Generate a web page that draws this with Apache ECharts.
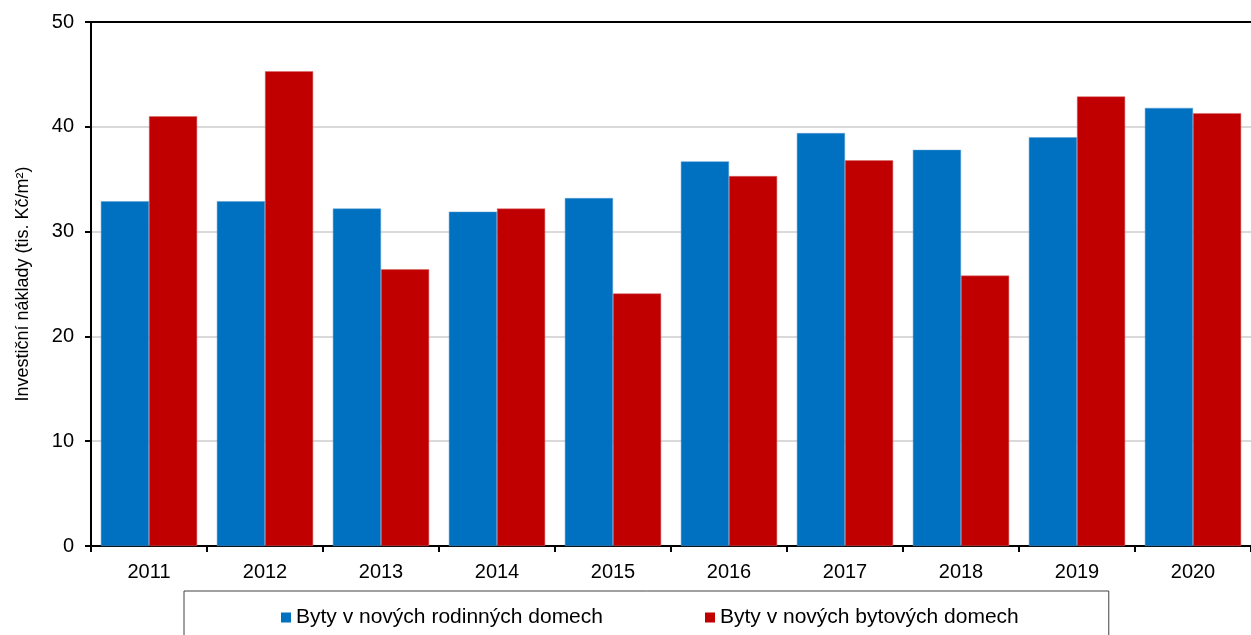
<!DOCTYPE html>
<html>
<head>
<meta charset="utf-8">
<script src="https://cdn.jsdelivr.net/npm/echarts@6/dist/echarts.min.js"></script>
<style>
    html, body {margin: 0; padding: 0; background: #fff;}
    #chart {width: 1251px; height: 635px;}
</style>
</head>
<body>
<div id="chart"></div>
<script>
const years = ['2011', '2012', '2013', '2014', '2015', '2016', '2017', '2018', '2019', '2020']
const rodinneDomy = [32.9, 32.9, 32.2, 31.9, 33.2, 36.7, 39.4, 37.8, 39.0, 41.8]
const bytoveDomy = [41.0, 45.3, 26.4, 32.2, 24.1, 35.3, 36.8, 25.8, 42.9, 41.3]
const seriesNames = ['Byty v nových rodinných domech', 'Byty v nových bytových domech']
const yTicks = {min: 0, max: 50, interval: 10}

const chartObj = echarts.init(document.getElementById('chart'))
const font = 'Liberation Sans, Arial, sans-serif'

const option = {
    backgroundColor: '#fff',
    animation: false,
    color: ['#0070C0', '#C00000'],
    grid: {
        left: 91,
        top: 22,
        bottom: 89,
        right: -12
    },
    legend: {
        data: seriesNames,
        left: 184,
        top: 591,
        icon: 'rect',
        itemWidth: 10,
        itemHeight: 10,
        itemGap: 102,
        padding: [16, 90, 30, 97],
        borderColor: '#404040',
        borderWidth: 1,
        itemStyle: {borderWidth: 0},
        textStyle: {fontFamily: font, fontSize: 21, color: '#000'}
    },
    xAxis: [
        {
            type: 'category',
            data: years,
            axisLine: {lineStyle: {color: '#000', width: 2}},
            axisTick: {show: true, length: 6, lineStyle: {color: '#000', width: 2}},
            axisLabel: {fontFamily: font, fontSize: 20, color: '#000', margin: 16}
        },
        {
            // horní okraj plochy grafu
            type: 'category',
            data: years,
            position: 'top',
            axisLine: {lineStyle: {color: '#000', width: 2}},
            axisTick: {show: false},
            axisLabel: {show: false}
        }
    ],
    yAxis: {
        type: 'value',
        min: yTicks.min,
        max: yTicks.max,
        interval: yTicks.interval,
        name: 'Investiční náklady (tis. Kč/m²)',
        nameLocation: 'middle',
        nameGap: 59,
        nameTextStyle: {fontFamily: font, fontSize: 18, color: '#000'},
        axisLine: {show: true, lineStyle: {color: '#000', width: 2}},
        axisTick: {show: true, length: 6, lineStyle: {color: '#000', width: 2}},
        axisLabel: {fontFamily: font, fontSize: 20, color: '#000', margin: 17},
        splitLine: {lineStyle: {color: '#cccccc', width: 1.5}}
    },
    series: [
        {
            name: seriesNames[0],
            type: 'bar',
            data: rodinneDomy,
            barGap: '0%',
            barCategoryGap: '17%',
            itemStyle: {borderColor: '#5a9fd6', borderWidth: 0.5}
        },
        {
            name: seriesNames[1],
            type: 'bar',
            data: bytoveDomy,
            itemStyle: {borderColor: '#d86a6a', borderWidth: 0.5}
        }
    ]
}

chartObj.setOption(option)
</script>
</body>
</html>
